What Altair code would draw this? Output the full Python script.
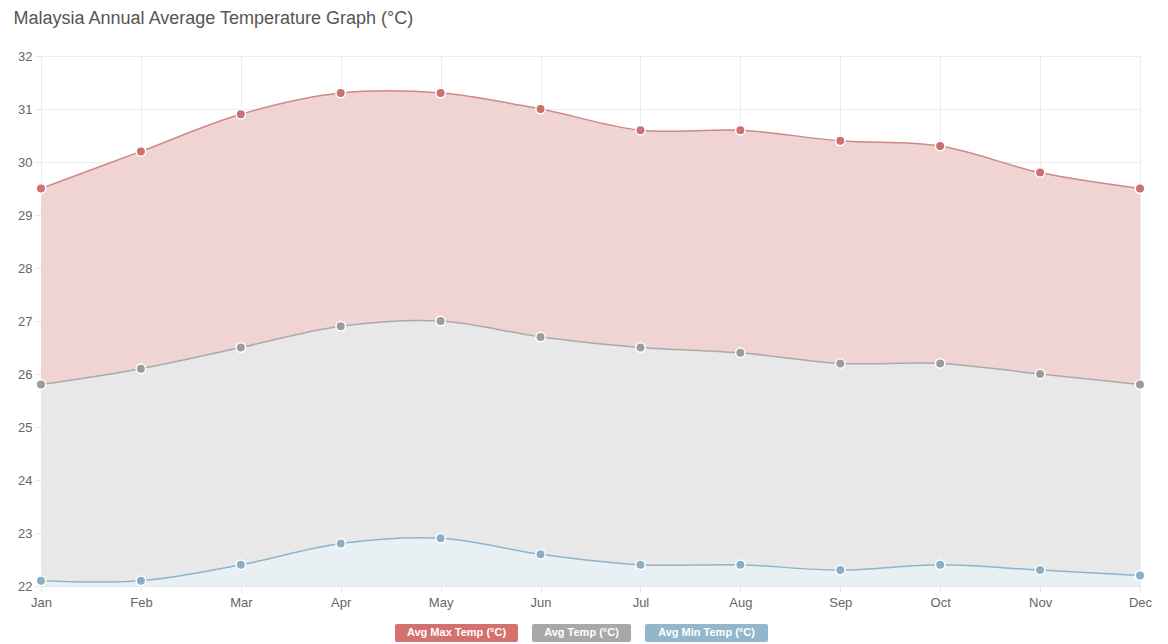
import altair as alt
import pandas as pd

months = ["Jan", "Feb", "Mar", "Apr", "May", "Jun", "Jul", "Aug", "Sep", "Oct", "Nov", "Dec"]
max_temp = [29.5, 30.2, 30.9, 31.3, 31.3, 31.0, 30.6, 30.6, 30.4, 30.3, 29.8, 29.5]
avg_temp = [25.8, 26.1, 26.5, 26.9, 27.0, 26.7, 26.5, 26.4, 26.2, 26.2, 26.0, 25.8]
min_temp = [22.1, 22.1, 22.4, 22.8, 22.9, 22.6, 22.4, 22.4, 22.3, 22.4, 22.3, 22.2]

series_names = ["Avg Max Temp (°C)", "Avg Temp (°C)", "Avg Min Temp (°C)"]
series_values = [max_temp, avg_temp, min_temp]
fill_colors = ["#efd4d3", "#e8e8e8", "#e8f0f4"]
line_colors = ["#cf8886", "#aaaaaa", "#8db4ca"]
point_colors = ["#cb716f", "#9c9c9c", "#8aafc5"]
legend_colors = ["#d4716e", "#a8a8a8", "#90b7cc"]

PLOT_W = 1099

rows = []
for name, vals in zip(series_names, series_values):
    for m, v in zip(months, vals):
        rows.append({"series": name, "month": m, "value": v})
df = pd.DataFrame(rows)

x_enc = alt.X(
    "month:N", sort=months, title=None,
    scale=alt.Scale(type="point", padding=0),
    axis=alt.Axis(labelAngle=0, grid=True, gridColor="#ececec", tickColor="#e6e6e6",
                  tickSize=6, domain=True, domainColor="#e6e6e6", labelColor="#666",
                  labelFontSize=13, labelPadding=4, labelFont="Liberation Sans"),
)
y_enc = alt.Y(
    "value:Q", title=None,
    scale=alt.Scale(domain=[22, 32], nice=False, zero=False),
    axis=alt.Axis(values=list(range(22, 33)), grid=True, gridColor="#ececec",
                  tickColor="#e6e6e6", tickSize=6, domain=False, labelColor="#666",
                  labelFontSize=13, labelPadding=3, labelFont="Liberation Sans"),
)

layers = []
for i, name in enumerate(series_names):
    base = alt.Chart(df).transform_filter(alt.datum.series == name)
    area = base.mark_area(interpolate="cardinal", color=fill_colors[i], opacity=1).encode(
        x=x_enc, y=y_enc, y2=alt.datum(22)
    )
    line = base.mark_line(interpolate="cardinal", color=line_colors[i], strokeWidth=1.5).encode(
        x=x_enc, y=y_enc
    )
    layers += [area, line]
for i, name in enumerate(series_names):
    base = alt.Chart(df).transform_filter(alt.datum.series == name)
    pts = base.mark_point(filled=True, size=90, color=point_colors[i], stroke="white",
                          strokeWidth=1.5, opacity=1).encode(x=x_enc, y=y_enc)
    layers.append(pts)

main = alt.layer(*layers).properties(
    width=PLOT_W, height=530,
    title=alt.TitleParams(
        "Malaysia Annual Average Temperature Graph (°C)", anchor="start", fontSize=18,
        font="Liberation Sans", fontWeight="normal", color="#555", offset=22, dx=-4,
    ),
)

# legend: boxes sized from label length, laid out side by side and centred
GAP = 14
leg_df = pd.DataFrame({"label": series_names, "order": [0, 1, 2]})
leg_base = (
    alt.Chart(leg_df)
    .transform_calculate(w="length(datum.label) * 6 + 21")
    .transform_calculate(wg=f"datum.w + {GAP}")
    .transform_window(cum="sum(wg)", sort=[alt.SortField("order")], frame=[None, 0])
    .transform_joinaggregate(total="sum(wg)")
    .transform_calculate(
        start=f"({PLOT_W} - (datum.total - {GAP})) / 2 + datum.cum - datum.wg - 9",
    )
    .transform_calculate(end="datum.start + datum.w", mid="datum.start + datum.w / 2")
)
leg_scale = alt.Scale(domain=[0, PLOT_W], nice=False, zero=False)
leg_bar = leg_base.mark_rect(cornerRadius=2).encode(
    x=alt.X("start:Q", scale=leg_scale, axis=None),
    x2="end:Q",
    color=alt.Color("label:N", scale=alt.Scale(domain=series_names, range=legend_colors), legend=None),
)
leg_text = leg_base.mark_text(color="white", fontWeight="bold", fontSize=11,
                              font="Liberation Sans", baseline="middle").encode(
    x=alt.X("mid:Q", scale=leg_scale, axis=None), text="label:N"
)
legend = alt.layer(leg_bar, leg_text).properties(width=PLOT_W, height=18)

chart = (
    alt.vconcat(main, legend, spacing=15)
    .properties(padding={"top": 2, "left": 5, "right": 5, "bottom": 0})
    .configure_view(stroke=None)
)

chart.save("out.html", embed_options={"renderer": "svg", "actions": False})
